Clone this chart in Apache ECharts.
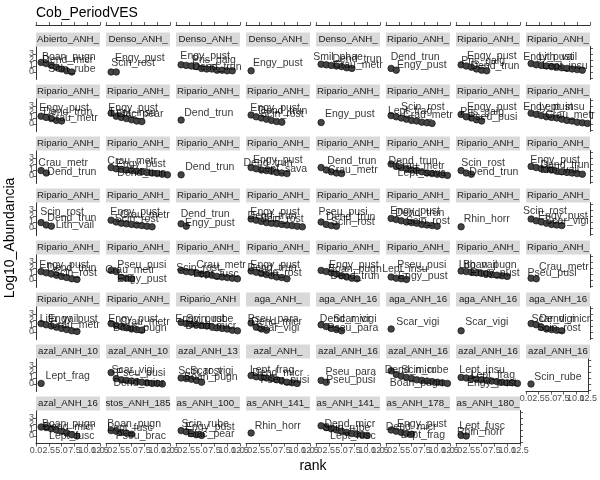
<!DOCTYPE html>
<html><head><meta charset="utf-8">
<script src="https://cdn.jsdelivr.net/npm/echarts@6/dist/echarts.min.js"></script>
<style>html,body{margin:0;padding:0;background:#fff}#c{width:600px;height:480px}</style>
</head><body><div id="c"></div>
<script>
// ---------------- DATA ----------------
const chartTitle = "Cob_PeriodVES";
const xTitle = "rank";
const yTitle = "Log10_Abundancia";
const yTickValues = [-1, 0, 1, 2, 3, 4];
const xTickValues = [0, 2.5, 5, 7.5, 10, 12.5];

const stripLabels = [
 "Abierto_ANH_","Denso_ANH_","Denso_ANH_","Denso_ANH_","Denso_ANH_","Ripario_ANH_","Ripario_ANH_","Ripario_ANH_",
 "Ripario_ANH_","Ripario_ANH_","Ripario_ANH_","Ripario_ANH_","Ripario_ANH_","Ripario_ANH_","Ripario_ANH_","Ripario_ANH_",
 "Ripario_ANH_","Ripario_ANH_","Ripario_ANH_","Ripario_ANH_","Ripario_ANH_","Ripario_ANH_","Ripario_ANH_","Ripario_ANH_",
 "Ripario_ANH_","Ripario_ANH_","Ripario_ANH_","Ripario_ANH_","Ripario_ANH_","Ripario_ANH_","Ripario_ANH_","Ripario_ANH_",
 "Ripario_ANH_","Ripario_ANH_","Ripario_ANH_","Ripario_ANH_","Ripario_ANH_","Ripario_ANH_","Ripario_ANH_","Ripario_ANH_",
 "Ripario_ANH_","Ripario_ANH_","Ripario_ANH","aga_ANH_","aga_ANH_16","aga_ANH_16","aga_ANH_16","aga_ANH_16",
 "azal_ANH_10","azal_ANH_10","azal_ANH_13","azal_ANH_","azal_ANH_16","azal_ANH_16","azal_ANH_16","azal_ANH_16",
 "azal_ANH_16","stos_ANH_185","as_ANH_100_","as_ANH_141_","as_ANH_141_","as_ANH_178_","as_ANH_180_"
];

// log10 abundance by rank (rank 1..n) for each panel
const abundance = [
 [1.6,1.4,1.1,0.8,0.5,0.2,0],
 [0,0],
 [1.2,1.1,1.0,0.9,0.6,0.5,0.5,0.3,0.3,0.2,0.2],
 [0.2],
 [1.3,1.2,1.1,1.0,0.9,0.7,0.6],
 [0.6,0.3],
 [1.2,1.0,0.8,0.5,0.3,0.2],
 [1.4,1.2,1.1,1.0,0.9,0.8,0.7,0.6,0.5,0.4,0.3],
 [1.3,1.1,0.9,0.6,0.5],
 [1.8,1.3,1.1,0.9,0.7,0.5,0.4],
 [0.65],
 [1.5,1.2,1.0,0.8,0.6,0.4,0.3],
 [0.25],
 [1.4,1.2,1.0,0.8,0.6,0.5,0.3,0.2,0.1],
 [1.6,1.2,1.0,0.7,0.5],
 [1.8,1.6,1.4,1.2,1.1,1.0,0.8,0.6,0.5,0.3,0.2,0.1],
 [0.9,0.5],
 [1.4,1.2,1.1,1.0,0.9,0.8,0.7,0.6,0.5,0.4,0.3,0.2],
 [0.2],
 [1.4,1.2,1.0,0.9,0.8,0.6,0.5,0.4],
 [1.4,1.0,0.7,0.5,0.4],
 [2.0,1.6,1.4,1.2,1.0,0.9,0.7,0.5,0.4,0.3,0.2,0.1],
 [0.9,0.5,0.3],
 [1.6,1.4,1.2,1.1,1.0,0.8,0.7,0.6,0.5,0.4,0.3],
 [0.9,0.5,0.3],
 [1.3,1.0,0.8,0.7,0.6,0.5,0.4,0.3,0.2],
 [0.7,0.3],
 [1.5,1.3,1.1,0.9,0.8,0.7,0.6,0.5,0.4,0.3,0.2],
 [1.0,0.6,0.4,0.3],
 [1.6,1.4,1.2,1.0,0.9,0.8,0.6,0.5,0.4,0.3],
 [0.2],
 [1.5,1.2,1.0,0.8,0.6,0.5,0.4],
 [1.4,1.2,1.0,0.8,0.6,0.4,0.2,0.1],
 [1.6,1.4,0.4,0.3,0.2],
 [1.6,1.4,1.3,1.2,1.0,0.9,0.8,0.6,0.5,0.4,0.3,0.2],
 [1.5,1.3,1.1,0.9,0.7,0.5,0.4,0.2],
 [1.6,1.4,1.2,1.0,0.7,0.5,0.3,0.2],
 [0.5,0.3,0.2,0.1],
 [1.5,1.4,1.3,1.2,1.1,1.0,0.9,0.8,0.7,0.6],
 [0.3,0.2],
 [1.4,1.2,1.0,0.8,0.6,0.4,0.2,0.1],
 [1.4,1.1,0.9,0.7,0.5,0.4,0.3],
 [1.6,1.4,1.3,1.2,1.1,1.0,0.9,0.7,0.6,0.5,0.3,0.2],
 [1.5,0.8,0.5,0.3],
 [1.2,0.9,0.6,0.4,0.2],
 [0.5],
 [0.2],
 [1.4,1.2,0.8,0.5,0.4,0.3,0.2],
 [0.1],
 [1.9,0.9,0.7,0.6,0.5,0.4,0.3,0.2,0.1,0.1,0],
 [1.0,0.9,0.8,0.6,0.3],
 [1.4,1.2,1.1,1.0,0.9,0.7,0.5,0.3,0.2,0.1],
 [0.6,0.3],
 [2.2,1.6,1.3,1.1,0.9,0.7,0.6,0.5,0.4,0.3,0.2,0.1],
 [1.1,1.0,0.9,0.8,0.7,0.6,0.5,0.4,0.3,0.2,0.2,0.1],
 [0],
 [1.5,1.4,1.2,1.0,0.8,0.5,0.2,0],
 [0.9,0.8,0.6,0.5,0.3],
 [0.9,0.7,0.4,0.2,0.1],
 [0.5],
 [1.7,1.4,1.2,1.0,0.8,0.6,0.4,0.3,0.2,0.1],
 [1.0,0.8,0.6,0.4,0.3],
 [0.1,0]
];

// species text labels: [name, rank, log10 value] (text anchor, data units)
const speciesLabels = [
 [["Boan_pugn",6.4,2.4],["Dend_micr",6.2,1.9],["Scin_rube",7.0,0.4]],
 [["Engy_pust",6.6,2.3],["Scin_rost",5.3,1.4]],
 [["Engy_pust",5.7,2.6],["Pris_gaig",7.4,1.9],["Dend_trun",8.0,0.75]],
 [["Engy_pust",6.2,1.4]],
 [["Smil_phae",4.3,2.4],["Dend_trun",8.0,2.1],["Crau_metr",8.2,1.1]],
 [["Dend_trun",5.7,2.4],["Engy_pust",7.0,1.1]],
 [["Engy_pust",7.0,2.6],["Pris_gaig",5.3,1.75],["Dend_trun",7.6,0.9]],
 [["Engy_pust",4.3,2.4],["Lith_vail",6.2,2.4],["Lept_insu",7.6,0.9]],
 [["Engy_pust",5.5,2.6],["Dend_trun",6.2,1.9],["Crau_metr",7.2,1.0]],
 [["Engy_pust",5.3,2.6],["Lept_insu",5.3,1.75],["Elac_pear",6.6,1.7]],
 [["Dend_trun",6.4,1.85]],
 [["Engy_pust",5.7,2.6],["Dend_trun",7.2,2.1],["Scin_rost",7.0,1.6]],
 [["Engy_pust",6.6,1.6]],
 [["Scin_rost",7.2,2.8],["Lept_frag",4.7,2.1],["Crau_metr",8.2,1.4]],
 [["Engy_pust",7.0,2.8],["Pris_gaig",5.1,1.9],["Pseu_pusi",7.2,1.1]],
 [["Engy_pust",4.3,2.8],["Lept_insu",7.0,2.8],["Crau_metr",8.6,1.4]],
 [["Crau_metr",5.3,2.2],["Dend_trun",7.0,0.7]],
 [["Crau_metr",5.1,2.4],["Engy_pust",6.8,1.9],["Dend_trun",7.0,0.4]],
 [["Dend_trun",6.6,1.45]],
 [["Engy_pust",6.2,2.6],["Dend_trun",4.3,2.1],["Lept_sava",7.2,1.1]],
 [["Dend_trun",7.0,2.4],["Crau_metr",7.2,1.05]],
 [["Dend_trun",5.3,2.4],["Crau_metr",6.6,1.6],["Lept_sava",7.0,0.4]],
 [["Scin_rost",5.3,2.1],["Dend_trun",7.4,0.7]],
 [["Engy_pust",5.7,2.6],["Dend_trun",7.6,1.75],["Lith_vail",6.6,0.9]],
 [["Scin_rost",5.1,2.6],["Dend_trun",7.0,1.6],["Lith_vail",7.6,0.4]],
 [["Engy_pust",5.7,2.6],["Crau_metr",7.6,2.1],["Scin_rost",6.0,1.4]],
 [["Dend_trun",5.7,2.3],["Engy_pust",6.6,0.8]],
 [["Engy_pust",5.7,2.6],["Dend_trun",5.1,1.9],["Scin_rost",7.0,1.4]],
 [["Pseu_pusi",5.3,2.6],["Dend_trun",6.8,1.75],["Scin_rost",7.2,0.9]],
 [["Engy_pust",5.7,2.8],["Dend_trun",6.6,2.4],["Scin_rost",8.2,1.2]],
 [["Rhin_horr",6.0,1.4]],
 [["Scin_rost",3.7,2.8],["Engy_pust",7.2,1.9],["Scar_vigi",8.0,1.2]],
 [["Engy_pust",5.5,2.4],["Dend_trun",7.0,1.9],["Scin_rost",7.6,1.07]],
 [["Pseu_pusi",7.0,2.4],["Crau_metr",4.7,1.6],["Engy_pust",7.0,0.2]],
 [["Crau_metr",8.8,2.4],["Scin_rost",4.3,1.9],["Lept_fusc",7.8,0.9]],
 [["Engy_pust",5.7,2.4],["Dend_trun",5.1,1.9],["Scin_rost",6.6,1.07]],
 [["Engy_pust",7.4,2.4],["Boan_pugn",7.6,1.75],["Dend_trun",7.6,0.6]],
 [["Pseu_pusi",7.0,2.4],["Lept_insu",3.7,1.75],["Engy_pust",7.2,0.7]],
 [["Lith_vail",4.3,2.4],["Boan_pugn",6.6,2.4],["Engy_pust",7.6,1.07]],
 [["Crau_metr",7.4,2.2],["Pseu_pusi",5.1,1.2]],
 [["Lith_vail",4.5,2.1],["Engy_pust",7.2,2.1],["Crau_metr",7.6,1.07]],
 [["Engy_pust",5.3,2.1],["Crau_metr",7.6,1.6],["Boan_pugn",6.6,0.7]],
 [["Engy_pust",4.7,2.2],["Scin_rube",6.6,2.2],["Dend_micr",6.8,0.9]],
 [["Pseu_para",5.3,2.2],["Dend_micr",6.0,1.6],["Scar_vigi",6.2,0.7]],
 [["Dend_micr",5.7,2.2],["Scar_vigi",7.6,2.2],["Pseu_para",7.2,0.7]],
 [["Scar_vigi",6.2,1.7]],
 [["Scar_vigi",6.0,1.7]],
 [["Scar_vigi",5.3,2.2],["Dend_micr",7.6,2.2],["Scin_rost",6.4,0.7]],
 [["Lept_frag",6.2,1.25]],
 [["Scar_vigi",5.3,2.3],["Pseu_pusi",6.8,1.75],["Dend_micr",6.4,0.2]],
 [["Scin_rost",4.7,2.1],["Scar_vigi",7.0,2.1],["Boan_pugn",6.8,1.07]],
 [["Lept_frag",5.1,2.3],["Dend_micr",6.2,1.75],["Pseu_pusi",7.6,0.6]],
 [["Pseu_para",6.8,1.9],["Pseu_pusi",6.8,0.7]],
 [["Dend_micr",4.7,2.3],["Scin_rube",7.6,2.3],["Boan_pugn",6.0,0.2]],
 [["Lept_insu",5.1,2.3],["Lept_frag",7.2,1.4],["Engy_pust",7.0,0.2]],
 [["Scin_rube",6.4,1.07]],
 [["Boan_pugn",6.4,1.9],["Dend_micr",6.4,1.4],["Lept_fusc",7.0,-0.1]],
 [["Boan_pugn",5.5,1.9],["Lept_fusc",4.7,1.25],["Pseu_brac",6.8,-0.1]],
 [["Scin_rube",5.7,1.9],["Engy_pust",6.6,1.4],["Elac_pear",6.8,0.35]],
 [["Rhin_horr",6.2,1.6]],
 [["Dend_micr",6.6,1.9],["Scin_rube",6.0,1.25],["Lept_fusc",7.2,-0.1]],
 [["Engy_pust",7.0,1.9],["Dend_micr",4.9,1.4],["Lept_frag",7.2,0.2]],
 [["Lept_fusc",5.1,1.6],["Rhin_horr",4.7,0.7]]
];

// ---------------- LAYOUT / STYLE ----------------
const FONT = "'Liberation Sans', Arial, sans-serif";
const L = {left:36, pitchX:70, w:64, top:46.5, pitchY:52, h:33, strip:14, cols:8};
const lineC = '#000', tickC = '#333', labC = '#4d4d4d';

const grid=[], xAxis=[], yAxis=[], series=[], graphic=[];
const n = stripLabels.length;
const rows = Math.ceil(n / L.cols);
const xEven = xTickValues.filter((v,k)=>k%2===0);
const xOdd = xTickValues.filter((v,k)=>k%2===1);

function xLabelAxis(i, show, values, withLine) {
  return {type:'value', gridIndex:i, min:0, max:12.5, position:'bottom',
    axisLine:{show:show && withLine, onZero:false, lineStyle:{color:lineC, width:0.8}},
    axisTick:{show:show && withLine, length:3, customValues:xTickValues, lineStyle:{color:tickC, width:0.8}},
    axisLabel:{show:show, customValues:values, fontSize:9, color:labC, margin:3, fontFamily:FONT,
      hideOverlap:false, formatter:v=>v.toFixed(1)},
    splitLine:{show:false}};
}

stripLabels.forEach((lab, i) => {
  const r = Math.floor(i / L.cols), c = i % L.cols;
  const gx = L.left + c * L.pitchX, gy = L.top + r * L.pitchY;
  const isBottom = (i + L.cols >= n);
  const isLeft = c === 0;
  const isRight = c === L.cols - 1 || i === n - 1;
  const isTop = r === 0;
  grid.push({left: gx, top: gy, width: L.w, height: L.h});

  const xi = xAxis.length;
  xAxis.push(xLabelAxis(i, isBottom, xEven, true));
  if (isBottom) xAxis.push(xLabelAxis(i, true, xOdd, false));
  if (isTop) {
    xAxis.push({type:'value', gridIndex:i, min:0, max:12.5, position:'top', offset:21.5,
      axisLine:{show:true, onZero:false, lineStyle:{color:lineC, width:0.8}},
      axisTick:{show:true, length:3, customValues:xTickValues, lineStyle:{color:tickC, width:0.8}},
      axisLabel:{show:false}, splitLine:{show:false}});
  }
  const yi = yAxis.length;
  yAxis.push({type:'value', gridIndex:i, min:-1.25, max:4.25, position:'left',
    axisLine:{show:isLeft, onZero:false, lineStyle:{color:lineC, width:0.8}},
    axisTick:{show:isLeft, length:3, customValues:yTickValues, lineStyle:{color:tickC, width:0.8}},
    axisLabel:{show:isLeft, customValues:yTickValues, fontSize:9, color:labC, margin:2, fontFamily:FONT},
    splitLine:{show:false}});
  if (isRight) {
    yAxis.push({type:'value', gridIndex:i, min:-1.25, max:4.25, position:'right',
      axisLine:{show:true, onZero:false, lineStyle:{color:lineC, width:0.8}},
      axisTick:{show:true, length:3, customValues:yTickValues, lineStyle:{color:tickC, width:0.8}},
      axisLabel:{show:false}, splitLine:{show:false}});
  }

  series.push({type:'scatter', xAxisIndex:xi, yAxisIndex:yi, clip:false, silent:true,
    data: abundance[i].map((v,k)=>[k+1, v]),
    symbolSize:6.5, itemStyle:{color:'#444444', borderColor:'#111', borderWidth:0.7, opacity:1}, z:3});
  series.push({type:'scatter', xAxisIndex:xi, yAxisIndex:yi, clip:false, silent:true,
    data: speciesLabels[i].map(d=>({name:d[0], value:[d[1], d[2]]})),
    symbol:'circle', symbolSize:0.1, itemStyle:{color:'rgba(0,0,0,0)'},
    label:{show:true, position:'inside', formatter:'{b}', fontSize:10.5, color:'#000', fontFamily:FONT}, z:4});

  graphic.push({type:'rect', z:1, silent:true, shape:{x:gx, y:gy - L.strip, width:L.w, height:L.strip}, style:{fill:'#d9d9d9'}});
  graphic.push({type:'text', z:2, silent:true, x:gx + L.w/2, y:gy - L.strip/2,
    style:{text:lab, fill:'#1a1a1a', font:`9.7px ${FONT}`, textAlign:'center', textVerticalAlign:'middle'}});
});

const areaRight = L.left + (L.cols-1)*L.pitchX + L.w;
const areaTop = L.top - L.strip, areaBottom = L.top + (rows-1)*L.pitchY + L.h;
graphic.push({type:'text', silent:true, x:L.left, y:13,
  style:{text:chartTitle, fill:'#000', font:`14px ${FONT}`, textAlign:'left', textVerticalAlign:'middle'}});
graphic.push({type:'text', silent:true, x:(L.left+areaRight)/2, y:466,
  style:{text:xTitle, fill:'#000', font:`14px ${FONT}`, textAlign:'center', textVerticalAlign:'middle'}});
graphic.push({type:'text', silent:true, x:10, y:(areaTop+areaBottom)/2, rotation:Math.PI/2,
  style:{text:yTitle, fill:'#000', font:`14px ${FONT}`, textAlign:'center', textVerticalAlign:'middle'}});

const chart = echarts.init(document.getElementById('c'), null, {renderer:'canvas'});
chart.setOption({animation:false, backgroundColor:'#fff', grid, xAxis, yAxis, series, graphic});
</script></body></html>
